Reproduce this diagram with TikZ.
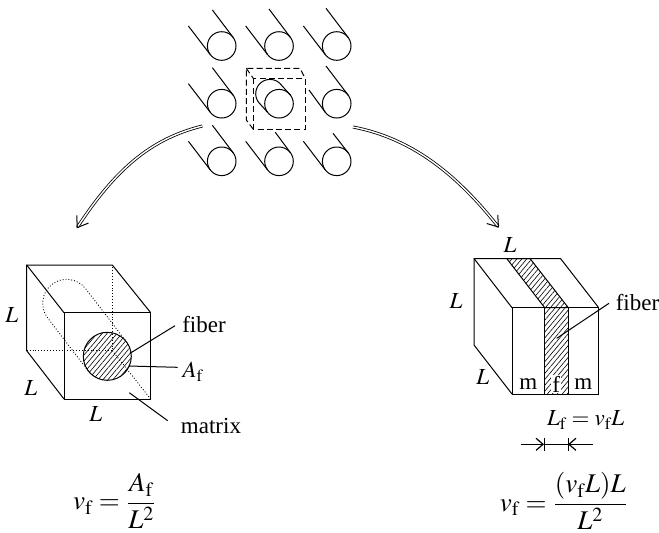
\documentclass[tikz,border=0pt]{standalone}
\usepackage{amsmath}
\usepackage{mathptmx}
\usepackage[no-math]{fontspec}
\setmainfont{Liberation Serif}
\usetikzlibrary{arrows.meta, patterns.meta}

\begin{document}
\begin{tikzpicture}[
    x=0.5pt, y=-0.5pt, line width=0.5pt,
    every node/.style={font=\fontsize{11.5}{14}\selectfont, inner sep=0pt},
    formula/.style={font=\fontsize{13.5}{16}\selectfont},
    hatched/.style={pattern={Lines[angle=50, distance=1.9pt, line width=0.3pt]}},
    hidden/.style={densely dotted, line width=0.45pt},
    cubeline/.style={dash pattern=on 3pt off 1.6pt},
    bigarrow/.style={double, double distance=0.7pt, line width=0.4pt,
                     -{Straight Barb[length=5pt, width=7pt, line width=0.5pt]}},
    dimarrow/.style={-{Straight Barb[length=3.5pt, width=6pt, line width=0.6pt]}},
]
\useasboundingbox (0,0) rectangle (659,532);

% Fibers seen end-on: column, row, tail ends
\foreach \cx/\cy/\lx/\ly/\ux/\uy in {
    221.7/46/-33.3/-20/-9.3/-36, 279/46/-33.3/-20/-10/-37, 336.7/46/-33.3/-20/-10.7/-37.7,
    221.7/103.7/-33.3/-20/-9.3/-36, 336.7/103.7/-27.7/-13.7/-10.7/-37.7,
    221.7/161.3/-33.3/-20/-9.3/-36, 279/161.3/-33.3/-20/-3.7/-29, 336.7/161.3/-33.3/-20/-3.7/-28}{
  \draw (\cx,\cy) circle[radius=7.15pt];
  \draw (\cx-11.5,\cy+8.5) -- (\cx+\lx,\cy+\ly);
  \draw (\cx+11.5,\cy-8.5) -- (\cx+\ux,\cy+\uy);
}

% Centre fiber inside the unit cell
\draw (279,103.7) circle[radius=7.15pt];
\draw (267.5,112.2) -- (258.5,102.2) arc[start angle=216.5, end angle=36.5, radius=7.15pt] -- (290.5,95.2);
\draw[cubeline] (253.3,78.3) rectangle (305,129.3);
\draw[cubeline] (253.3,129.3) -- (246.3,120) -- (246.3,68.3) -- (300,68.3) -- (305,78.3);
\draw[cubeline] (246.3,68.3) -- (253.3,78.3);

% Curved arrows to the two models
\coordinate (cellL) at (202.3,126);
\coordinate (cellR) at (353,127);
\coordinate (cubeA) at (76.7,228.3);
\coordinate (cubeB) at (499,227.7);
\draw[bigarrow] (cellL) .. controls (150,139) and (115,170) .. (cubeA);
\draw[bigarrow] (cellR) .. controls (410,138) and (455,172) .. (cubeB);

% Left cube
\draw (64,312.7) rectangle (150.7,399);
\draw (64,399) -- (26.7,350.7) -- (26.7,265) -- (112.3,265) -- (150.7,312.7);
\draw (26.7,265) -- (64,312.7);
\draw[hidden] (26.7,350.7) -- (112.3,350.7) -- (112.3,265);
\draw[hidden] (112.3,350.7) -- (150.7,399);
\draw[hidden] (88.2,370.9) -- (47.6,317.9) arc[start angle=217.4, end angle=37.4, radius=12pt] -- (126.4,341.7);
\draw[hatched, draw] (107.3,356.3) circle[radius=12pt];

\node (lblL1) at (11.7,315) {$L$};
\node (lblL2) at (30.7,388) {$L$};
\node (lblL3) at (95.7,414) {$L$};
\node (lblFiberA) at (204,325) {fiber};
\node (lblAf) at (193,371.7) {$A_{\mathrm{f}}$};
\node (lblMatrix) at (211,425.7) {matrix};
\coordinate (fiberAin) at (130,353.3);
\coordinate (fiberAout) at (175,325.7);
\coordinate (areaAin) at (128.3,366);
\coordinate (areaAout) at (177.7,367.3);
\coordinate (matrixAin) at (129.3,392.7);
\coordinate (matrixAout) at (167.7,420.7);
\draw (fiberAout) -- (fiberAin);
\draw (areaAout) -- (areaAin);
\draw (matrixAout) -- (matrixAin);

% Right cube
\draw (512,307.7) rectangle (598.7,394);
\draw (512,394) -- (474,345) -- (474,258.5) -- (560.5,258.5) -- (598.7,307.7);
\draw (474,258.5) -- (512,307.7);
\draw[hatched, draw] (544.7,307.7) -- (506.7,258.5) -- (530,258.5) -- (568.3,307.7) -- cycle;
\draw[hatched, draw] (544.7,307.7) rectangle (568.3,394);

\node (lblL4) at (456,300.7) {$L$};
\node (lblL5) at (482.7,377.3) {$L$};
\node (lblL6) at (510,245) {$L$};
\node (lblFiberB) at (637.5,302.7) {fiber};
\node (lblM1) at (528.3,384) {m};
\node[fill=white, inner sep=0.5pt] (lblF) at (556.3,384) {f};
\node (lblM2) at (583.3,384) {m};
\coordinate (fiberBin) at (556.7,338.3);
\coordinate (fiberBout) at (609,303.3);
\draw (fiberBout) -- (fiberBin);

% Fiber width dimension
\node (lblLf) at (585.7,420) {$L_{\mathrm{f}} = v_{\mathrm{f}}L$};
\coordinate (dimL) at (544,444.3);
\coordinate (dimR) at (568,444.3);
\coordinate (dimLo) at (521,444.3);
\coordinate (dimRo) at (592.7,444.3);
\draw[dimarrow] (dimLo) -- (dimL);
\draw[dimarrow] (dimRo) -- (dimR);
\draw (dimL) -- (dimR);
\draw (544,438) -- (544,450.5);
\draw (568,438) -- (568,450.5);

% Volume fractions
\node[formula] (eqLeft) at (115,501) {$v_{\mathrm{f}} = \dfrac{A_{\mathrm{f}}}{L^2}$};
\node[formula] (eqRight) at (564,501) {$v_{\mathrm{f}} = \dfrac{(v_{\mathrm{f}}L)L}{L^2}$};

\end{tikzpicture}
\end{document}
